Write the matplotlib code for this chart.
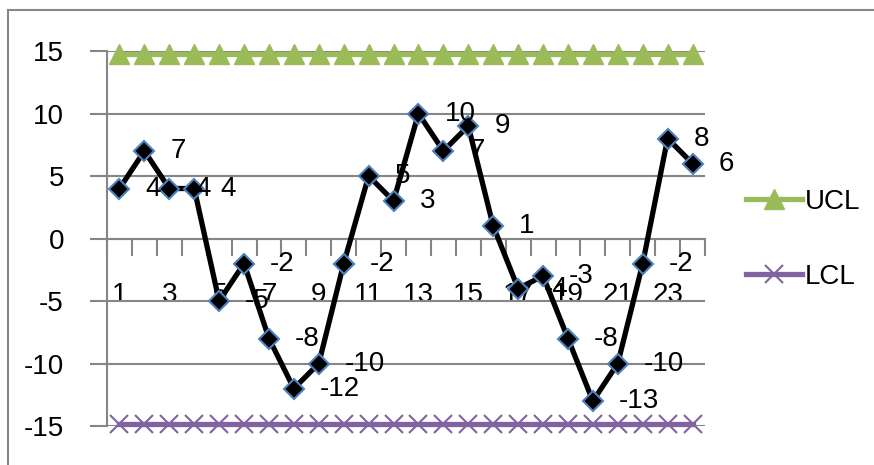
import matplotlib
matplotlib.use("Agg")
import matplotlib.pyplot as plt
from matplotlib.patches import Rectangle
from matplotlib import font_manager

names = [f.name for f in font_manager.fontManager.ttflist]
fam = "Liberation Sans Narrow" if "Liberation Sans Narrow" in names else "Liberation Sans"
plt.rcParams["font.family"] = [fam, "DejaVu Sans"]
plt.rcParams["axes.unicode_minus"] = False

samples = list(range(1, 25))
values = [4, 7, 4, 4, -5, -2, -8, -12, -10, -2, 5, 3, 10, 7, 9, 1, -4, -3, -8, -13, -10, -2, 8, 6]
ucl = [14.8] * 24
lcl = [-14.8] * 24
xlabels = [str(i) for i in range(1, 25, 2)]

fs = 20
fig = plt.figure(figsize=(8.74, 4.65), dpi=100)
ax = fig.add_axes([107 / 874, 1 - 426 / 465, 598 / 874, 375 / 465])

# chart frame
fig.patches.append(Rectangle((8 / 874, -0.1), 1.2, 1 - 10 / 465 + 0.1, transform=fig.transFigure,
                             fill=False, edgecolor="#868686", linewidth=1.5))

ax.set_xlim(0.5, 24.5)
ax.set_ylim(-15, 15)
ax.set_yticks([-15, -10, -5, 0, 5, 10, 15])
ax.grid(axis="y", color="#868686", linewidth=1.5)
ax.set_axisbelow(True)

for s in ["top", "right"]:
    ax.spines[s].set_visible(False)
ax.spines["left"].set_color("#868686")
ax.spines["left"].set_linewidth(1.5)
ax.spines["bottom"].set_position(("data", 0))
ax.spines["bottom"].set_color("#868686")
ax.spines["bottom"].set_linewidth(1.5)

ax.tick_params(axis="y", direction="out", length=12, width=1.5, color="#868686",
               labelsize=fs, pad=19)
ax.set_xticks(range(1, 25, 2))
ax.set_xticklabels(xlabels)
ax.set_xticks([i + 0.5 for i in range(0, 25)], minor=True)
ax.tick_params(axis="x", which="major", length=0, labelsize=fs, pad=31)
ax.tick_params(axis="x", which="minor", direction="out", length=12, width=1.5, color="#868686")

ax.plot(samples, values, color="black", linewidth=3.8, marker="D", markersize=10,
        markerfacecolor="black", markeredgecolor="#4f81bd", markeredgewidth=1.5,
        zorder=4, clip_on=False)
ax.plot(samples, ucl, color="#9bbb59", linewidth=3.8, marker="^", markersize=14,
        label="UCL", zorder=3, clip_on=False)
ax.plot(samples, lcl, color="#8064a2", linewidth=3.8, marker="x", markersize=13,
        markeredgewidth=1.5, label="LCL", zorder=3, clip_on=False)

for x, v in zip(samples, values):
    ax.annotate(str(v), (x, v), xytext=(26, 0), textcoords="offset pixels",
                ha="left", va="center", fontsize=fs, color="black", zorder=5)

fig.legend(loc="upper left", bbox_to_anchor=(735 / 874, 1 - 178 / 465), frameon=False,
           fontsize=fs, handlelength=2.0, handletextpad=0.1, labelspacing=1.75,
           borderaxespad=0)

fig.savefig("out.png", dpi=100)
